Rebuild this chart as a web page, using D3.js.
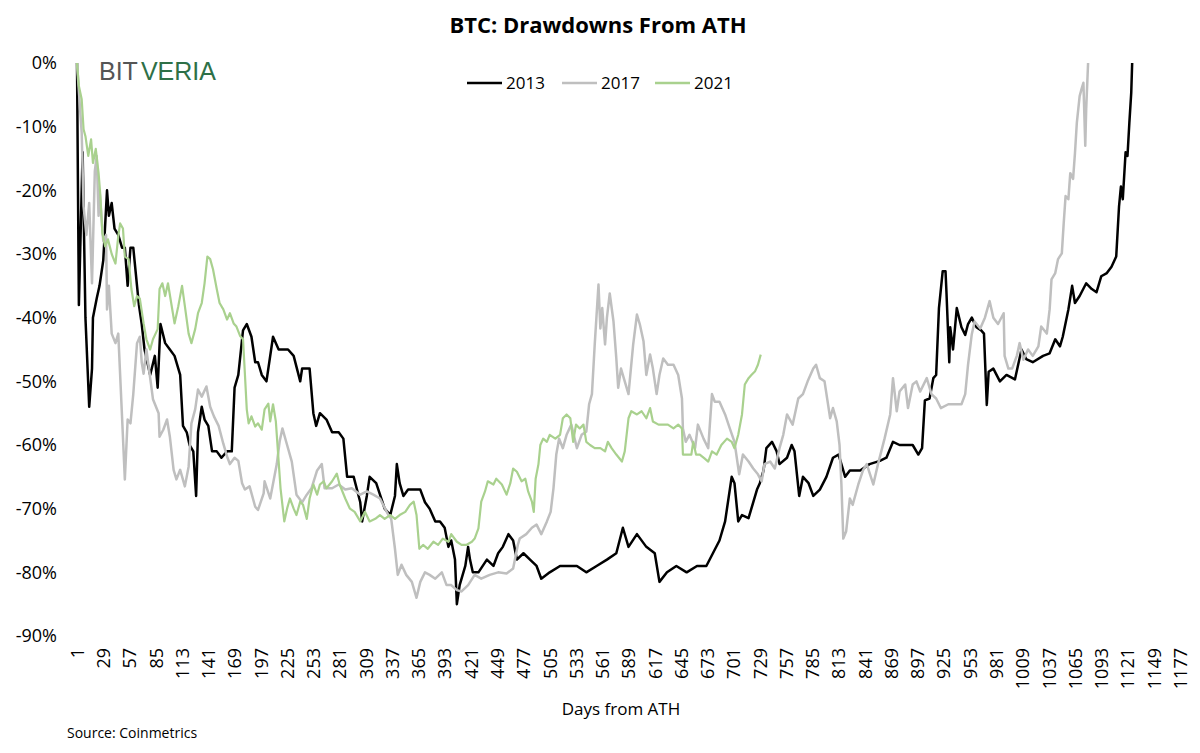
<!DOCTYPE html>
<html>
<head>
<meta charset="utf-8">
<script src="https://cdn.jsdelivr.net/npm/d3@7"></script>
<style>
  html, body { margin: 0; padding: 0; background: #fff; }
  svg { display: block; font-family: "Open Sans", sans-serif; }
</style>
</head>
<body>
<div class="chart"></div>
<script>
const WIDTH = 1200;
const HEIGHT = 753;

// drawdown from all-time high, [day, percent]
var btc2013 = [
  [1,0],[3,-38],[7,-14],[10,-40],[14,-54],[17,-48],[18,-40],[22,-37],[25,-35],[29,-31],
  [33,-20],[35,-24],[38,-22],[41,-26],[45,-27],[49,-29],[52,-29],[55,-35],[58,-29],[61,-29],
  [65,-35],[67,-38],[70,-41],[73,-45],[79,-49],[84,-46],[87,-51],[90,-41],[95,-44],[100,-45],
  [105,-46],[111,-49],[114,-57],[118,-58],[121,-60],[125,-61],[128,-68],[130,-58],[134,-54],[137,-56],
  [141,-57],[145,-61],[150,-61],[155,-62],[161,-61],[166,-61],[169,-51],[173,-49],[178,-42],[182,-41],
  [187,-43],[191,-47],[194,-47],[198,-49],[203,-50],[210,-43],[216,-45],[221,-45],[226,-45],[232,-46],
  [239,-50],[241,-48],[249,-48],[253,-55],[256,-57],[260,-55],[267,-56],[273,-58],[280,-58],[285,-59],
  [289,-65],[296,-65],[303,-69],[305,-72],[310,-68],[313,-65],[320,-66],[329,-70],[335,-71],[340,-68],
  [342,-63],[345,-66],[349,-68],[354,-67],[360,-67],[367,-67],[372,-69],[377,-70],[383,-72],[388,-72],
  [393,-73],[397,-76],[400,-75],[404,-78],[406,-85],[409,-82],[415,-79],[418,-76],[420,-78],[423,-80],
  [429,-80],[438,-78],[445,-79],[450,-77],[455,-76],[461,-74],[466,-75],[470,-78],[477,-77],[484,-78],
  [491,-79],[496,-81],[505,-80],[516,-79],[523,-79],[534,-79],[544,-80],[555,-79],[566,-78],[576,-77],
  [583,-73],[589,-76],[598,-74],[608,-76],[617,-77],[622,-81.5],[630,-80],[640,-79],[651,-80],[662,-79],
  [672,-79],[679,-77],[686,-75],[692,-72],[697,-67],[699,-65],[702,-66],[706,-72],[710,-71],[717,-71.5],
  [720,-70],[726,-67],[729,-66],[733,-64],[736,-60.5],[742,-59.5],[747,-61],[750,-63],[758,-62],[763,-60],
  [766,-61],[771,-68],[775,-65],[781,-66],[786,-68],[793,-67],[800,-65],[807,-62],[813,-61.5],[820,-65],
  [825,-64],[836,-64],[846,-63],[857,-62.5],[864,-62],[871,-59.5],[878,-60],[885,-60],[892,-60],[898,-61.5],
  [902,-60.5],[905,-53],[910,-52.7],[914,-49.5],[917,-49],[920,-38.5],[924,-32.7],[927,-32.7],[928,-36],[931,-47],
  [932,-41.5],[935,-45],[939,-38.5],[944,-41.5],[948,-42.7],[951,-41],[955,-40],[960,-41.5],[965,-42],[968,-42.5],
  [971,-53.7],[973,-48.5],[978,-48],[985,-50],[992,-49],[1001,-49.7],[1008,-45],[1013,-46.5],[1020,-47],[1031,-46],
  [1038,-45.6],[1044,-43.4],[1049,-44.5],[1052,-43],[1058,-38.7],[1062,-35],[1065,-37.7],[1070,-36.6],[1077,-34.6],[1083,-35.5],
  [1088,-36],[1093,-33.5],[1099,-33],[1104,-32],[1109,-30.4],[1112,-22.5],[1114,-19.4],[1116,-21.4],[1119,-14],[1121,-14.6],
  [1123,-9.4],[1125,-4.7],[1126,0]
];

var btc2017 = [
  [1,0],[6,-11],[8,-22.5],[11,-27],[14,-22],[17,-34.6],[20,-17],[22,-14.6],[24,-24],[25,-20],
  [29,-28],[32,-27],[33,-38.7],[35,-35],[38,-42.5],[42,-44],[45,-42.5],[49,-55.5],[52,-65.4],[55,-56],
  [58,-56.6],[61,-52],[65,-44],[68,-43],[70,-47],[72,-48.8],[75,-45],[82,-52.8],[88,-55],[89,-58.7],
  [93,-57.6],[97,-56],[100,-58.7],[104,-63.9],[107,-65.4],[111,-63.9],[116,-66.5],[120,-63.4],[123,-56.6],[127,-54.4],
  [130,-51.3],[134,-52.4],[139,-50.8],[143,-54],[147,-55.5],[152,-57],[157,-59.8],[161,-61.8],[164,-63],[169,-62],
  [173,-62.5],[177,-66],[180,-67],[185,-66.5],[191,-69.7],[194,-70.2],[200,-67.6],[201,-65.7],[207,-68.4],[214,-63],
  [217,-59.5],[220,-57.4],[225,-60],[230,-62.6],[235,-67.8],[241,-69],[246,-67.8],[251,-66.8],[257,-64],[262,-63],
  [265,-66.8],[273,-66.8],[280,-66.2],[287,-67],[294,-66.8],[303,-67.8],[310,-67.3],[317,-67.8],[324,-68.4],[333,-71],
  [336,-71.6],[340,-76.3],[343,-80.4],[347,-78.8],[352,-80.4],[358,-81.5],[363,-84],[367,-81.5],[372,-80],[377,-80.4],
  [383,-81],[390,-80],[395,-82],[400,-82],[406,-82.8],[411,-83],[418,-82],[425,-80.4],[432,-81],[441,-80.4],
  [450,-80],[459,-80.2],[466,-79.4],[471,-75.7],[473,-74.7],[480,-74],[486,-73],[491,-72.5],[496,-74],[502,-72],
  [506,-70.5],[509,-66.8],[512,-61.5],[515,-59],[519,-60.5],[523,-58.4],[528,-56.8],[534,-60.5],[539,-58.4],[544,-57.9],
  [547,-53.6],[550,-52],[553,-44.2],[557,-34.8],[559,-41.7],[561,-38.5],[564,-44.2],[566,-40],[569,-36.2],[573,-40.6],
  [576,-46.4],[578,-51],[581,-48],[585,-50],[589,-52],[594,-44.2],[598,-39.5],[601,-41],[605,-43.7],[608,-49],
  [612,-45.8],[615,-48],[619,-52],[622,-49],[626,-46.4],[631,-47.4],[637,-47.4],[642,-49],[646,-52.7],[647,-57.4],
  [650,-59.5],[654,-58.4],[660,-60.5],[663,-56.8],[669,-59],[674,-60.5],[678,-52],[681,-53.2],[686,-53.2],[692,-55.2],
  [697,-57.4],[702,-59.5],[707,-64.6],[711,-61.5],[717,-62.6],[722,-63.7],[727,-64.6],[731,-65.7],[734,-63],[740,-62.6],
  [745,-63.7],[750,-60.5],[754,-58.4],[758,-55.2],[764,-56.8],[770,-52.7],[775,-52],[780,-50],[786,-48],[789,-47.4],
  [793,-49.5],[798,-50],[804,-55.8],[807,-54.2],[811,-56.3],[814,-60],[816,-66.2],[818,-74.7],[821,-73.6],[825,-68.4],
  [828,-69.4],[834,-66.2],[839,-64],[843,-63],[850,-66.2],[855,-63],[862,-59],[868,-55.2],[871,-49.5],[875,-54.7],
  [878,-51.6],[884,-50.5],[887,-54.2],[892,-50.5],[896,-50],[900,-51.6],[907,-49.5],[912,-52],[917,-52.7],[922,-54.2],
  [930,-53.6],[937,-53.6],[944,-53.6],[948,-52],[951,-47.4],[955,-42.6],[958,-40.6],[964,-41.7],[969,-40],[974,-37.4],
  [978,-40],[983,-41],[989,-39.3],[990,-46],[994,-48],[998,-48],[1003,-46],[1006,-44],[1010,-46.6],[1015,-45],
  [1020,-46],[1026,-44.5],[1029,-41.4],[1035,-42.5],[1038,-38.7],[1040,-34],[1044,-33],[1047,-30.8],[1051,-29.9],[1053,-25.2],
  [1055,-20.9],[1058,-21.4],[1060,-17.3],[1063,-18.2],[1065,-14.2],[1067,-9.4],[1070,-5.2],[1072,-4.1],[1074,-3.1],[1076,-13],
  [1077,-7.2],[1079,0]
];

var btc2021 = [
  [1,0],[3,-3.6],[6,-5.7],[8,-10.4],[10,-11.5],[13,-14.6],[16,-12],[18,-15.7],[21,-13.5],[24,-17.3],
  [26,-21],[28,-26.7],[31,-28.8],[34,-27.7],[38,-30],[42,-31.5],[45,-27.2],[47,-25.2],[50,-26],[52,-30.4],
  [56,-30.8],[59,-35.5],[62,-38.2],[65,-36.6],[68,-37],[72,-40.9],[75,-43.4],[79,-45],[82,-43.4],[87,-41.8],
  [89,-35.5],[92,-34.6],[95,-36.6],[98,-34.6],[102,-38.2],[105,-40.9],[109,-38.2],[113,-35],[116,-38.2],[120,-42.5],
  [123,-44],[127,-41.8],[130,-39.3],[134,-37.7],[137,-34.6],[140,-30.4],[143,-30.8],[146,-32.4],[150,-35.5],[153,-37.7],
  [157,-38.7],[161,-40.3],[164,-39.3],[168,-40.9],[171,-41.4],[175,-42.9],[178,-43.4],[180,-48.8],[182,-54.4],[184,-56.6],
  [187,-55.5],[191,-57.1],[194,-56.6],[198,-57.6],[201,-54.4],[205,-53.5],[207,-56.3],[210,-53.6],[213,-56.3],[216,-62.6],
  [218,-66.8],[222,-72],[225,-70],[228,-68.4],[232,-70],[235,-71],[239,-68.9],[242,-69.4],[246,-71.6],[249,-68.4],
  [253,-66.2],[257,-67.8],[260,-66.2],[264,-65.7],[267,-66.8],[273,-65.7],[278,-64.5],[281,-66.2],[287,-68.4],[292,-70],
  [297,-70.5],[303,-72],[308,-70.5],[313,-72],[319,-71.6],[324,-71],[329,-71.6],[335,-71],[340,-71.6],[345,-71],
  [351,-70.5],[356,-69.4],[360,-68.9],[363,-71],[366,-76.3],[370,-75.7],[375,-76.3],[381,-75.2],[386,-75.7],[391,-74.7],
  [397,-75.2],[400,-74],[406,-75.2],[411,-75.7],[416,-75.7],[422,-75.2],[425,-74.7],[429,-73.1],[432,-68.9],[436,-67.3],
  [439,-65.7],[445,-66.2],[448,-65.3],[454,-66.2],[459,-67.8],[463,-66],[466,-63.7],[470,-64.2],[475,-65.7],[479,-65.3],
  [482,-67.3],[486,-68.9],[488,-70.5],[490,-65.3],[493,-63],[495,-60],[498,-59],[502,-59.5],[505,-58.4],[511,-59],
  [516,-58.4],[519,-55.8],[523,-55.2],[527,-55.8],[530,-59.5],[533,-56.8],[537,-57.4],[541,-56.8],[544,-59.5],[548,-60],
  [553,-60.5],[559,-60.5],[564,-61],[567,-59.5],[571,-60.5],[576,-61.5],[582,-62.6],[585,-61],[589,-55.8],[592,-54.7],
  [598,-55.2],[603,-54.7],[608,-55.8],[612,-54.2],[615,-56.3],[621,-56.8],[626,-56.8],[631,-56.8],[637,-57.4],[642,-56.8],
  [646,-57.4],[647,-61.5],[651,-61.5],[656,-61.5],[658,-59.5],[661,-61.5],[665,-61.5],[670,-62.1],[674,-62.6],[678,-61],
  [683,-61.5],[688,-60],[694,-59],[699,-59.5],[702,-60.5],[706,-58.4],[710,-55.2],[713,-50.5],[717,-49.5],[720,-49],
  [724,-48.4],[727,-47.4],[730,-45.8]
];

var seriesNames = ['2013', '2017', '2021'];
var seriesColors = ['#000000', '#bfbfbf', '#a9d18e'];
var xTickDays = [1, 29, 57, 85, 113, 141, 169, 197, 225, 253, 281, 309, 337, 365, 393, 421, 449, 477, 505, 533,
  561, 589, 617, 645, 673, 701, 729, 757, 785, 813, 841, 869, 897, 925, 953, 981, 1009, 1037, 1065, 1093,
  1121, 1149, 1177];
var yTicks = [0, -10, -20, -30, -40, -50, -60, -70, -80, -90];

var xScale = d3.scaleLinear().domain([1, 1177]).range([77, 1180]);
var yScale = d3.scaleLinear().domain([-90, 0]).range([636, 63]);

var svg = d3.select('.chart').append('svg')
  .attr('width', WIDTH)
  .attr('height', HEIGHT);

// title
svg.append('text')
  .attr('x', 598)
  .attr('y', 33)
  .attr('text-anchor', 'middle')
  .style('font-size', '22px')
  .style('font-weight', 700)
  .text('BTC: Drawdowns From ATH');

// logo
var logo = svg.append('text')
  .attr('x', 99)
  .attr('y', 80)
  .style('font-family', '"Liberation Sans", Arial, sans-serif')
  .style('font-size', '25px');
logo.append('tspan').attr('fill', '#555555').text('BIT');
logo.append('tspan').attr('fill', '#2e7047').attr('dx', 3).text('VERIA');

// axes
var yAxis = d3.axisLeft(yScale).tickValues(yTicks).tickSize(0).tickPadding(0)
  .tickFormat(function (d) { return d + '%'; });
var yAxisG = svg.append('g').attr('transform', 'translate(57,0)').call(yAxis);
yAxisG.select('.domain').remove();
yAxisG.selectAll('text')
  .style('font-family', '"Open Sans", sans-serif')
  .style('font-size', '18px')
  .attr('fill', '#000');

var xAxis = d3.axisBottom(xScale).tickValues(xTickDays).tickSize(0)
  .tickFormat(function (d) { return String(d); });
var xAxisG = svg.append('g').attr('transform', 'translate(0,648)').call(xAxis);
xAxisG.select('.domain').remove();
xAxisG.selectAll('text')
  .style('font-family', '"Open Sans", sans-serif')
  .style('font-size', '18px')
  .attr('fill', '#000')
  .attr('transform', 'rotate(-90)')
  .attr('x', 0)
  .attr('y', 0)
  .attr('dy', '0.35em')
  .style('text-anchor', 'end');

svg.append('text')
  .attr('x', 621)
  .attr('y', 715)
  .attr('text-anchor', 'middle')
  .style('font-size', '17px')
  .text('Days from ATH');

svg.append('text')
  .attr('x', 67)
  .attr('y', 738)
  .style('font-size', '14px')
  .text('Source: Coinmetrics');

// lines
var line = d3.line()
  .x(function (d) { return xScale(d[0]); })
  .y(function (d) { return yScale(d[1]); });

var allSeries = [btc2013, btc2017, btc2021];
allSeries.forEach(function (data, i) {
  svg.append('path')
    .attr('d', line(data))
    .attr('fill', 'none')
    .attr('stroke', seriesColors[i])
    .attr('stroke-width', i === 2 ? 2.2 : 2.5)
    .attr('stroke-linejoin', 'round');
});

// legend
var legendX = [467, 562, 655];
var legend = svg.append('g');
seriesNames.forEach(function (name, i) {
  legend.append('line')
    .attr('x1', legendX[i]).attr('x2', legendX[i] + 35)
    .attr('y1', 83).attr('y2', 83)
    .attr('stroke', seriesColors[i])
    .attr('stroke-width', 2.5);
  legend.append('text')
    .attr('x', legendX[i] + 39)
    .attr('y', 89)
    .style('font-size', '17px')
    .text(name);
});
</script>
</body>
</html>
